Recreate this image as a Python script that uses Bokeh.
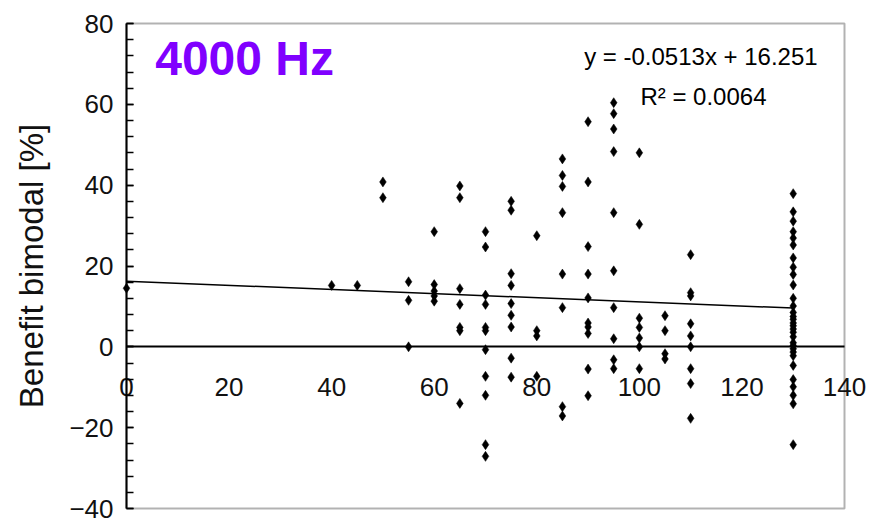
from bokeh.plotting import figure
from bokeh.models import (Range1d, SingleIntervalTicker, FixedTicker, ColumnDataSource,
                          LinearAxis, BoxAnnotation)
from bokeh.core.properties import value
from bokeh.embed import file_html
from bokeh.resources import INLINE

# ---- data ----
groups_x = [0, 40, 45, 50, 55, 60, 65, 70, 75, 80, 85, 90, 95, 100, 105, 110, 130]
groups_y = [
    [14.5],
    [15.2],
    [15.2],
    [40.8, 36.9],
    [16.1, 11.5, 0.0],
    [28.5, 15.4, 13.8, 12.6, 11.3],
    [39.8, 36.9, 14.4, 10.5, 4.8, 4.0, -14.0],
    [28.5, 24.7, 12.8, 10.5, 4.8, 4.0, -0.7, -7.3, -12.0, -24.2, -27.1],
    [36.0, 33.8, 18.1, 15.2, 10.7, 7.8, 4.9, -2.8, -7.5],
    [27.5, 4.0, 2.7, -7.3],
    [46.5, 42.4, 39.7, 33.2, 18.0, 9.7, -14.8, -17.1],
    [55.7, 40.8, 24.8, 18.0, 12.1, 5.9, 4.9, 3.3, -5.5, -12.1],
    [60.4, 57.7, 53.9, 48.3, 33.2, 18.8, 9.7, 2.0, -3.2, -5.4],
    [48.0, 30.3, 7.1, 4.8, 2.2, 0.0, -5.4],
    [7.7, 4.0, -1.7, -3.0],
    [22.8, 13.4, 12.6, 5.7, 2.7, 0.0, -5.4, -9.1, -17.7],
    [37.9, 33.4, 31.1, 28.5, 26.9, 25.2, 22.0, 19.7, 17.9, 15.3, 12.0, 10.1,
     8.5, 7.5, 6.8, 5.9, 5.2, 4.4, 3.6, 2.5, 1.0, 0.3, -0.5, -1.3, -2.2,
     -4.6, -8.1, -9.9, -12.0, -14.1, -24.2],
]
trend_x = [0, 130]
trend_y = [16.25, 9.58]
x_ticks = [0, 20, 40, 60, 80, 100, 120, 140]
x_lim = (0, 140)
y_lim = (-40, 80)
equation_text = "y = -0.0513x + 16.251"
r2_text = "R\u00b2 = 0.0064"
panel_title = "4000 Hz"
y_label = "Benefit bimodal [%]"

pts_x = []
pts_y = []
for gx, gys in zip(groups_x, groups_y):
    for gy in gys:
        pts_x.append(gx)
        pts_y.append(gy)

FONT = "Liberation Sans"
W, H = 881, 524
# pixel placement of the drawn box inside the canvas
BOX_L, BOX_R, BOX_T, BOX_B = 126, 844, 23, 508
sx = (BOX_R - BOX_L) / (x_lim[1] - x_lim[0])
sy = (BOX_B - BOX_T) / (y_lim[1] - y_lim[0])
xr = Range1d(x_lim[0] - BOX_L / sx, x_lim[1] + (W - BOX_R) / sx)
yr = Range1d(y_lim[0] - (H - BOX_B) / sy, y_lim[1] + BOX_T / sy)

p = figure(width=W, height=H, output_backend="svg", toolbar_location=None,
           x_axis_location=None, y_axis_location=None, x_range=xr, y_range=yr,
           min_border_left=0, min_border_right=0, min_border_top=0,
           min_border_bottom=0)
p.background_fill_color = "white"
p.border_fill_color = "white"
p.outline_line_color = None
p.xgrid.visible = False
p.ygrid.visible = False

# frame box
p.add_layout(BoxAnnotation(left=x_lim[0], right=x_lim[1], bottom=y_lim[0], top=y_lim[1],
                           fill_alpha=0, line_color="black", line_width=2))

# y axis at x = 0
ya = LinearAxis(fixed_location=x_lim[0], bounds=y_lim,
                ticker=SingleIntervalTicker(interval=20, num_minor_ticks=5))
ya.major_tick_in = 7
ya.major_tick_out = 0
ya.minor_tick_in = 7
ya.minor_tick_out = 0
ya.major_tick_line_width = 1.5
ya.minor_tick_line_width = 1.5
ya.axis_line_width = 2
ya.axis_line_color = "black"
ya.major_tick_line_color = "black"
ya.minor_tick_line_color = "black"
ya.major_label_text_font = FONT
ya.major_label_text_font_size = "26px"
ya.major_label_text_color = "#111111"
ya.major_label_standoff = 13
ya.axis_label = y_label
ya.axis_label_text_font = FONT
ya.axis_label_text_font_size = "33px"
ya.axis_label_text_font_style = "normal"
ya.axis_label_text_color = "#111111"
ya.axis_label_standoff = 16
p.add_layout(ya, "left")

# x axis drawn along the zero line
xa = LinearAxis(fixed_location=0, bounds=x_lim,
                ticker=FixedTicker(ticks=x_ticks, minor_ticks=[]))
xa.axis_line_width = 2
xa.axis_line_color = "black"
xa.major_tick_line_color = None
xa.minor_tick_line_color = None
xa.major_tick_in = 0
xa.major_tick_out = 0
xa.major_label_text_font = FONT
xa.major_label_text_font_size = "26px"
xa.major_label_text_color = "#111111"
xa.major_label_standoff = 31
p.add_layout(xa, "below")

# trend line
p.line(trend_x, trend_y, line_color="black", line_width=1.5)

# points
src = ColumnDataSource(dict(x=pts_x, y=pts_y))
p.scatter("x", "y", source=src, marker="diamond", size=10, fill_color="black",
          line_color="black", line_width=0.5)

# annotations
p.text(x=[112], y=[71.9], text=[equation_text], text_font=value(FONT),
       text_font_size="24px", text_align="center", text_baseline="middle",
       text_color="black")
p.text(x=[112.5], y=[62.0], text=[r2_text], text_font=value(FONT),
       text_font_size="24px", text_align="center", text_baseline="middle",
       text_color="black")
p.text(x=[5.6], y=[71.3], text=[panel_title], text_font=value(FONT),
       text_font_size="48px", text_font_style="bold", text_align="left",
       text_baseline="middle", text_color="#8000ff")

open("out.html", "w").write(file_html(p, INLINE))
